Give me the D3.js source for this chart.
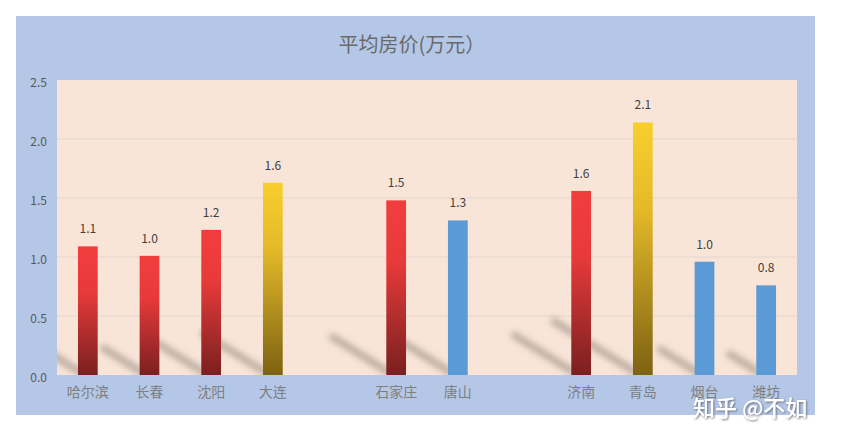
<!DOCTYPE html>
<html>
<head>
<meta charset="utf-8">
<script src="https://cdn.jsdelivr.net/npm/d3@7"></script>
<style>
  body { margin: 0; background: #fff; }
  text { font-family: "Noto Sans CJK SC", "Noto Sans", sans-serif; }
</style>
</head>
<body>
<div id="chart"></div>
<script>
// city categories, "" marks the empty slots between provinces
const cities = ["哈尔滨", "长春", "沈阳", "大连", "", "石家庄", "唐山", "", "济南", "青岛", "烟台", "潍坊"];
// average price, 10k yuan
const prices = [1.09, 1.01, 1.23, 1.63, null, 1.48, 1.31, null, 1.56, 2.14, 0.96, 0.76];
// colour kind of each bar: red = capital, gold = key city, blue = other
const kinds = ["red", "red", "red", "gold", null, "red", "blue", null, "red", "gold", "blue", "blue"];
const yTicks = [0, 0.5, 1, 1.5, 2, 2.5];

const W = 847, H = 442;
const panel = { x: 16, y: 16, w: 799, h: 399 };
const plot = { left: 57, right: 797, top: 80, bottom: 375 };

const svg = d3.select("#chart").append("svg")
  .attr("width", W)
  .attr("height", H);

const defs = svg.append("defs");

// bar gradients
const grads = {
  red: ["#f23d3d", "#e83a3a", "#7a2020"],
  gold: ["#f8cf2e", "#e3b928", "#7d6212"]
};
Object.keys(grads).forEach(k => {
  const g = defs.append("linearGradient")
    .attr("id", "g-" + k)
    .attr("x1", 0).attr("y1", 0).attr("x2", 0).attr("y2", 1);
  g.append("stop").attr("offset", "0%").attr("stop-color", grads[k][0]);
  g.append("stop").attr("offset", "35%").attr("stop-color", grads[k][1]);
  g.append("stop").attr("offset", "100%").attr("stop-color", grads[k][2]);
});

defs.append("filter").attr("id", "blur")
  .attr("x", "-50%").attr("y", "-50%").attr("width", "200%").attr("height", "200%")
  .append("feGaussianBlur").attr("stdDeviation", 3);

defs.append("clipPath").attr("id", "plot-clip")
  .append("rect")
  .attr("x", plot.left).attr("y", plot.top)
  .attr("width", plot.right - plot.left).attr("height", plot.bottom - plot.top);

const wm = defs.append("filter").attr("id", "wm-shadow");
wm.append("feDropShadow").attr("dx", 1).attr("dy", 1).attr("stdDeviation", 0.8)
  .attr("flood-color", "#555").attr("flood-opacity", 0.8);

// blue chart panel
svg.append("rect")
  .attr("x", panel.x).attr("y", panel.y)
  .attr("width", panel.w).attr("height", panel.h)
  .attr("fill", "#b4c7e7");

// peach plot area
svg.append("rect")
  .attr("x", plot.left).attr("y", plot.top)
  .attr("width", plot.right - plot.left).attr("height", plot.bottom - plot.top)
  .attr("fill", "#f9e5d8");

// scales
const x = d3.scaleBand()
  .domain(d3.range(cities.length))
  .range([plot.left, plot.right])
  .paddingInner(0.68)
  .paddingOuter(0.34);

const y = d3.scaleLinear()
  .domain([0, 2.5])
  .range([plot.bottom, plot.top]);

// grid lines
svg.append("g")
  .selectAll("line")
  .data(yTicks.slice(1, -1))
  .enter().append("line")
  .attr("x1", plot.left).attr("x2", plot.right)
  .attr("y1", d => y(d)).attr("y2", d => y(d))
  .attr("stroke", "#e2d5cc")
  .attr("stroke-width", 1);

// y axis
const yAxis = svg.append("g")
  .attr("transform", `translate(${plot.left - 10},0)`)
  .call(d3.axisLeft(y).tickValues(yTicks).tickFormat(d3.format(".1f")).tickSize(0));
yAxis.select(".domain").remove();
yAxis.selectAll("text")
  .attr("fill", "#595959")
  .attr("dy", "0.55em")
  .style("font-size", "12px")
  .attr("x", 0);

const bars = cities.map((c, i) => ({ city: c, value: prices[i], kind: kinds[i], i }))
  .filter(d => d.value != null);

// slanted shadows cast to the left of each bar
const k = 0.2;
svg.append("g")
  .attr("clip-path", "url(#plot-clip)")
  .append("g")
  .attr("filter", "url(#blur)")
  .selectAll("line")
  .data(bars)
  .enter().append("line")
  .attr("x1", d => x(d.i) + 2)
  .attr("y1", plot.bottom - 3)
  .attr("x2", d => x(d.i) + 2 - (plot.bottom - y(d.value)) * k * 1.6)
  .attr("y2", d => plot.bottom - 3 - (plot.bottom - y(d.value)) * k)
  .attr("stroke", "#7d6f66")
  .attr("stroke-opacity", 0.5)
  .attr("stroke-width", 7)
  .attr("stroke-linecap", "round");

// bars
svg.append("g")
  .selectAll("rect")
  .data(bars)
  .enter().append("rect")
  .attr("x", d => x(d.i))
  .attr("y", d => y(d.value))
  .attr("width", x.bandwidth())
  .attr("height", d => plot.bottom - y(d.value))
  .attr("fill", d => d.kind === "blue" ? "#5b9bd5" : `url(#g-${d.kind})`);

// value labels
svg.append("g")
  .selectAll("text")
  .data(bars)
  .enter().append("text")
  .attr("x", d => x(d.i) + x.bandwidth() / 2)
  .attr("y", d => y(d.value) - 13)
  .attr("text-anchor", "middle")
  .attr("fill", "#404040")
  .style("font-size", "12px")
  .text(d => d3.format(".1f")(d.value));

// category labels
svg.append("g")
  .selectAll("text")
  .data(bars)
  .enter().append("text")
  .attr("x", d => x(d.i) + x.bandwidth() / 2)
  .attr("y", 397)
  .attr("text-anchor", "middle")
  .attr("fill", "#7f7f7f")
  .style("font-size", "14px")
  .text(d => d.city);

// title
svg.append("text")
  .attr("x", 412)
  .attr("y", 52)
  .attr("text-anchor", "middle")
  .attr("fill", "#6a6a6a")
  .style("font-size", "20px")
  .text("平均房价(万元）");

// watermark (overlaps the last labels, as in the source image)
svg.append("text")
  .attr("x", 693)
  .attr("y", 416)
  .attr("fill", "#fff")
  .attr("filter", "url(#wm-shadow)")
  .style("font-size", "22px")
  .style("font-weight", "500")
  .text("知乎 @不如");
</script>
</body>
</html>
